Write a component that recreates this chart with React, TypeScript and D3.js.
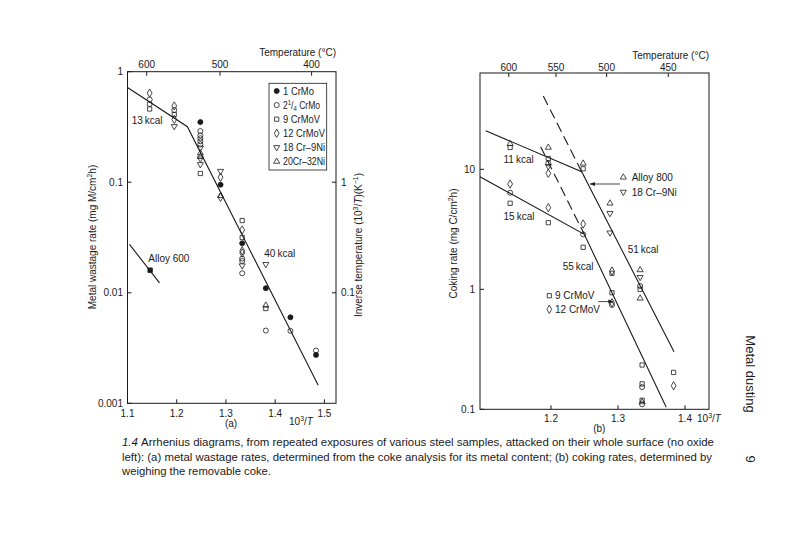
import React, { useRef, useEffect } from 'react';
import * as d3 from 'd3';

type Pt = [number, number];
type Seg = { t: string; sup?: boolean; sub?: boolean; it?: boolean };

// ---- panel (a): metal wastage ----
const xTicksA = [1.1, 1.2, 1.3, 1.4, 1.5];
const yTicksA = [1, 0.1, 0.01, 0.001];
const yTickLabelsA = ['1', '0.1', '0.01', '0.001'];
const invTickPosA = [0.1, 0.01];
const invTickLabelsA = ['1', '0.1'];
const tempLabelsA = ['600', '500', '400'];
const tempInvA = [1.139, 1.288, 1.474];

const crMo1A: Pt[] = [[1.248, 0.35], [1.289, 0.095], [1.333, 0.028], [1.381, 0.011], [1.431, 0.006], [1.483, 0.00274]];
const crMo214A: Pt[] = [
  [1.145, 0.56], [1.145, 0.51], [1.195, 0.45], [1.248, 0.29], [1.248, 0.265], [1.248, 0.25], [1.248, 0.235],
  [1.248, 0.22], [1.333, 0.0204], [1.333, 0.0194], [1.333, 0.015], [1.381, 0.00455], [1.431, 0.00452], [1.483, 0.003]
];
const crMoV9A: Pt[] = [[1.145, 0.46], [1.195, 0.41], [1.248, 0.12], [1.333, 0.045], [1.333, 0.0316], [1.381, 0.0072]];
const crMoV12A: Pt[] = [
  [1.145, 0.64], [1.195, 0.49], [1.195, 0.37], [1.289, 0.111], [1.289, 0.073], [1.333, 0.037], [1.333, 0.024], [1.333, 0.0229]
];
const cr18Ni9A: Pt[] = [[1.195, 0.32], [1.248, 0.205], [1.248, 0.163], [1.248, 0.145], [1.289, 0.126], [1.333, 0.0176], [1.381, 0.0181]];
const cr20Ni32A: Pt[] = [[1.248, 0.183], [1.248, 0.17], [1.289, 0.0755], [1.381, 0.0077]];
const alloy600A: Pt[] = [[1.146, 0.016]];

const fitA: Pt[] = [[1.1, 0.72], [1.2217, 0.318], [1.4874, 0.00146]];
const fitAlloy600A: Pt[] = [[1.104, 0.0274], [1.165, 0.0123]];

// ---- panel (b): coking rate ----
const xTicksB = [1.2, 1.3, 1.4];
const yTicksB = [10, 1, 0.1];
const yTickLabelsB = ['10', '1', '0.1'];
const tempLabelsB = ['600', '550', '500', '450'];
const tempInvB = [1.137, 1.2075, 1.283, 1.375];

const alloy800B: Pt[] = [[1.139, 16.3], [1.196, 15.2], [1.248, 11.2], [1.288, 5.21], [1.333, 1.45], [1.333, 0.841], [1.336, 0.115]];
const cr18Ni9B: Pt[] = [[1.196, 10.6], [1.288, 4.3], [1.288, 2.96], [1.333, 1.26]];
const crMoV9B: Pt[] = [
  [1.139, 15.2], [1.139, 5.21], [1.196, 12.3], [1.196, 3.59], [1.248, 10.1], [1.248, 2.24], [1.291, 1.36],
  [1.291, 0.937], [1.333, 1.0], [1.336, 0.234], [1.336, 0.163], [1.336, 0.119], [1.383, 0.203]
];
const crMoV12B: Pt[] = [[1.139, 7.54], [1.196, 9.26], [1.196, 4.79], [1.248, 3.5], [1.291, 1.42], [1.291, 0.773], [1.383, 0.157]];
const otherB: Pt[] = [[1.139, 6.38], [1.196, 11.2], [1.248, 2.87], [1.291, 0.74], [1.333, 1.065], [1.336, 0.153], [1.336, 0.11]];

const fitUpperB: Pt[] = [[1.1025, 20.97], [1.2458, 9.55], [1.3836, 0.302]];
const fitLowerB: Pt[] = [[1.094, 8.68], [1.2497, 2.87], [1.372, 0.104]];
const dashUpperB: Pt[] = [[1.1885, 40.8], [1.2458, 9.55]];
const dashLowerB: Pt[] = [[1.1846, 15.4], [1.2497, 2.87]];
const arrowUpperB: Pt[] = [[1.303, 7.54], [1.258, 7.54]];
const arrowLowerB: Pt[] = [[1.2706, 0.79], [1.293, 0.79]];

const captionLines = [
  'Arrhenius diagrams, from repeated exposures of various steel samples, attacked on their whole surface (no oxide',
  'left): (a) metal wastage rates, determined from the coke analysis for its metal content; (b) coking rates, determined by',
  'weighing the removable coke.'
];

const FONT = '"Liberation Sans", Arial, sans-serif';
const INK = '#1a1a1a';

const shapeDefs: Record<string, { type: d3.SymbolType; size: number; fill: string; rot: number }> = {
  filledCircle: { type: d3.symbolCircle, size: 20, fill: INK, rot: 0 },
  circle: { type: d3.symbolCircle, size: 20, fill: 'none', rot: 0 },
  square: { type: d3.symbolSquare, size: 18, fill: 'none', rot: 0 },
  filledSquare: { type: d3.symbolSquare, size: 20, fill: INK, rot: 0 },
  diamond: { type: d3.symbolDiamond, size: 20, fill: 'none', rot: 0 },
  triangle: { type: d3.symbolTriangle, size: 16, fill: 'none', rot: 0 },
  invTriangle: { type: d3.symbolTriangle, size: 16, fill: 'none', rot: 180 }
};

const App: React.FC = () => {
  const ref = useRef<SVGSVGElement | null>(null);

  useEffect(() => {
    if (!ref.current) return;
    const svg = d3.select(ref.current);
    svg.selectAll('*').remove();

    const rich = (text: d3.Selection<SVGTextElement, unknown, null, undefined>, segs: Seg[], fs: number) => {
      let shift = 0;
      segs.forEach(s => {
        const target = s.sup ? -fs * 0.4 : s.sub ? fs * 0.25 : 0;
        const ts = text.append('tspan').attr('dy', target - shift).text(s.t);
        if (s.sup || s.sub) ts.attr('font-size', fs * 0.7);
        if (s.it) ts.attr('font-style', 'italic');
        shift = target;
      });
      return text;
    };

    const label = (x: number, y: number, str: string | Seg[], opts: { fs?: number; anchor?: string; rot?: number; len?: number } = {}) => {
      const fs = opts.fs ?? 10;
      const t = svg
        .append('text')
        .attr('font-family', FONT)
        .attr('font-size', fs)
        .attr('fill', INK)
        .attr('text-anchor', opts.anchor ?? 'start');
      if (opts.rot) t.attr('transform', `translate(${x},${y}) rotate(${opts.rot})`);
      else t.attr('x', x).attr('y', y);
      if (typeof str === 'string') t.text(str);
      else rich(t as any, str, fs);
      if (opts.len) t.attr('textLength', opts.len).attr('lengthAdjust', 'spacingAndGlyphs');
      return t;
    };

    const marker = (x: number, y: number, kind: string) => {
      const d = shapeDefs[kind];
      svg
        .append('path')
        .attr('d', d3.symbol().type(d.type).size(d.size)())
        .attr('transform', `translate(${x},${y}) rotate(${d.rot})`)
        .attr('fill', d.fill)
        .attr('stroke', INK)
        .attr('stroke-width', 0.8);
    };

    const frame = (x0: number, x1: number, y0: number, y1: number) => {
      svg
        .append('rect')
        .attr('x', x0)
        .attr('y', y0)
        .attr('width', x1 - x0)
        .attr('height', y1 - y0)
        .attr('fill', 'none')
        .attr('stroke', INK)
        .attr('stroke-width', 1);
    };

    const tick = (x1: number, y1: number, x2: number, y2: number) => {
      svg.append('line').attr('x1', x1).attr('y1', y1).attr('x2', x2).attr('y2', y2).attr('stroke', INK).attr('stroke-width', 1);
    };

    // ================= panel (a) =================
    const xa = d3.scaleLinear().domain([1.1, 1.5]).range([127.5, 324.4]);
    const ya = d3.scaleLog().domain([0.001, 1]).range([403.3, 71.7]);
    const boxA = { l: 127.5, r: 336, t: 71.7, b: 403.3 };
    frame(boxA.l, boxA.r, boxA.t, boxA.b);

    xTicksA.forEach(v => {
      tick(xa(v), boxA.b, xa(v), boxA.b - 4);
      label(xa(v), 416.5, v.toFixed(1), { anchor: 'middle' });
    });
    yTicksA.forEach((v, i) => {
      tick(boxA.l, ya(v), boxA.l + 4, ya(v));
      label(123, ya(v) + 3.5, yTickLabelsA[i], { anchor: 'end' });
    });
    invTickPosA.forEach((v, i) => {
      tick(boxA.r, ya(v), boxA.r - 4, ya(v));
      label(341, ya(v) + 3.5, invTickLabelsA[i]);
    });
    tempInvA.forEach((v, i) => {
      tick(xa(v), boxA.t, xa(v), boxA.t + 4);
      label(xa(v), 68, tempLabelsA[i], { anchor: 'middle' });
    });
    label(336, 56, 'Temperature (°C)', { anchor: 'end' });
    label(289, 424.5, [{ t: '10' }, { t: '3', sup: true }, { t: '/' }, { t: 'T', it: true }]);
    label(231, 426.5, '(a)', { anchor: 'middle' });
    label(96, 237, [{ t: 'Metal wastage rate (mg M/cm' }, { t: '2', sup: true }, { t: 'h)' }], { anchor: 'middle', rot: -90 });
    label(361.5, 245, [{ t: 'Inverse temperature (10' }, { t: '3', sup: true }, { t: '/' }, { t: 'T', it: true }, { t: ')(K' }, { t: '\u22121', sup: true }, { t: ')' }], {
      anchor: 'middle',
      rot: -90
    });

    const lineA = d3.line<Pt>().x(d => xa(d[0])).y(d => ya(d[1]));
    [fitA, fitAlloy600A].forEach(p => {
      svg.append('path').datum(p).attr('d', lineA).attr('fill', 'none').attr('stroke', INK).attr('stroke-width', 1.1);
    });

    const seriesA: [Pt[], string][] = [
      [crMo214A, 'circle'],
      [crMoV9A, 'square'],
      [crMoV12A, 'diamond'],
      [cr18Ni9A, 'invTriangle'],
      [cr20Ni32A, 'triangle'],
      [crMo1A, 'filledCircle'],
      [alloy600A, 'filledSquare']
    ];
    seriesA.forEach(([pts, kind]) => pts.forEach(p => marker(xa(p[0]), ya(p[1]), kind)));

    label(131.7, 124, '13\u2009kcal');
    label(264.3, 256.5, '40\u2009kcal');
    label(148.3, 262, 'Alloy 600');

    // legend (a)
    svg.append('rect').attr('x', 269).attr('y', 83.3).attr('width', 57.7).attr('height', 86.7).attr('fill', '#fff').attr('stroke', INK).attr('stroke-width', 0.8);
    const legendA: [Seg[], string, number][] = [
      [[{ t: '1 CrMo' }], 'filledCircle', 31],
      [[{ t: '2' }, { t: '1', sup: true }, { t: '/' }, { t: '4', sub: true }, { t: ' CrMo' }], 'circle', 37],
      [[{ t: '9 CrMoV' }], 'square', 37],
      [[{ t: '12 CrMoV' }], 'diamond', 42],
      [[{ t: '18 Cr\u20139Ni' }], 'invTriangle', 42],
      [[{ t: '20Cr\u201332Ni' }], 'triangle', 42]
    ];
    legendA.forEach(([segs, kind, len], i) => {
      const y = 91 + i * 14.1;
      marker(276.7, y, kind);
      label(283, y + 3.5, segs, { len });
    });

    // ================= panel (b) =================
    const xb = d3.scaleLinear().domain([1.2, 1.4]).range([551, 685]);
    const yb = d3.scaleLog().domain([0.1, 10]).range([409.3, 169.3]);
    const boxB = { l: 480, r: 709, t: 73, b: 409.3 };
    frame(boxB.l, boxB.r, boxB.t, boxB.b);

    xTicksB.forEach(v => {
      tick(xb(v), boxB.b, xb(v), boxB.b - 4);
      label(xb(v), 421.5, v.toFixed(1), { anchor: 'middle' });
    });
    yTicksB.forEach((v, i) => {
      tick(boxB.l, yb(v), boxB.l + 4, yb(v));
      label(475, yb(v) + 3.5, yTickLabelsB[i], { anchor: 'end' });
    });
    tempInvB.forEach((v, i) => {
      tick(xb(v), boxB.t, xb(v), boxB.t + 4);
      label(xb(v), 70.5, tempLabelsB[i], { anchor: 'middle' });
    });
    label(709, 58.5, 'Temperature (°C)', { anchor: 'end' });
    label(697, 421.5, [{ t: '10' }, { t: '3', sup: true }, { t: '/' }, { t: 'T', it: true }]);
    label(599.3, 431.5, '(b)', { anchor: 'middle' });
    label(456.5, 243.5, [{ t: 'Coking rate (mg C/cm' }, { t: '2', sup: true }, { t: 'h)' }], { anchor: 'middle', rot: -90 });

    const lineB = d3.line<Pt>().x(d => xb(d[0])).y(d => yb(d[1]));
    [fitUpperB, fitLowerB].forEach(p => {
      svg.append('path').datum(p).attr('d', lineB).attr('fill', 'none').attr('stroke', INK).attr('stroke-width', 1.1);
    });
    [dashUpperB, dashLowerB].forEach(p => {
      svg.append('path').datum(p).attr('d', lineB).attr('fill', 'none').attr('stroke', INK).attr('stroke-width', 1.1).attr('stroke-dasharray', '10,5');
    });

    // arrows
    [arrowUpperB, arrowLowerB].forEach(p => {
      const [a, b] = p.map(q => [xb(q[0]), yb(q[1])]);
      svg.append('line').attr('x1', a[0]).attr('y1', a[1]).attr('x2', b[0]).attr('y2', b[1]).attr('stroke', INK).attr('stroke-width', 0.8);
      const dir = Math.sign(b[0] - a[0]);
      svg
        .append('path')
        .attr('d', `M${b[0]},${b[1]} L${b[0] - dir * 5},${b[1] - 2} L${b[0] - dir * 5},${b[1] + 2} Z`)
        .attr('fill', INK);
    });

    const seriesB: [Pt[], string][] = [
      [otherB, 'circle'],
      [crMoV9B, 'square'],
      [crMoV12B, 'diamond'],
      [cr18Ni9B, 'invTriangle'],
      [alloy800B, 'triangle']
    ];
    seriesB.forEach(([pts, kind]) => pts.forEach(p => marker(xb(p[0]), yb(p[1]), kind)));

    label(503.5, 163, '11\u2009kcal');
    label(503.5, 220, '15\u2009kcal');
    label(627.7, 253, '51\u2009kcal');
    label(562.7, 269.5, '55\u2009kcal');

    // legends (b)
    marker(623.3, 177.3, 'triangle');
    label(631.7, 180.8, 'Alloy 800');
    marker(623.3, 192, 'invTriangle');
    label(631.7, 195.5, '18 Cr\u20139Ni');
    marker(549.3, 295.7, 'square');
    label(555, 299.2, '9 CrMoV');
    marker(549.3, 309.3, 'diamond');
    label(555, 312.8, '12 CrMoV');

    // ================= page furniture =================
    const cap = svg.append('text').attr('font-family', FONT).attr('font-size', 11).attr('fill', INK);
    cap.append('tspan').attr('x', 122).attr('y', 446).attr('font-style', 'italic').text('1.4 ');
    cap.append('tspan').text(captionLines[0]);
    const widths = [592, 590, 149];
    captionLines.forEach((ln, i) => {
      if (i === 0) return;
      svg
        .append('text')
        .attr('font-family', FONT)
        .attr('font-size', 11)
        .attr('fill', INK)
        .attr('x', 122)
        .attr('y', 446 + i * 14.5)
        .attr('textLength', widths[i])
        .attr('lengthAdjust', 'spacingAndGlyphs')
        .text(ln);
    });
    cap.attr('textLength', widths[0]).attr('lengthAdjust', 'spacingAndGlyphs');

    label(746, 374, 'Metal dusting', { fs: 13, anchor: 'middle', rot: 90 });
    label(746, 459, '9', { fs: 13, anchor: 'middle', rot: 90 });
  }, []);

  return (
    <svg
      ref={ref}
      width={800}
      height={533}
      viewBox="0 0 800 533"
      style={{ position: 'absolute', left: 0, top: 0, background: '#fff' }}
    />
  );
};

export default App;
